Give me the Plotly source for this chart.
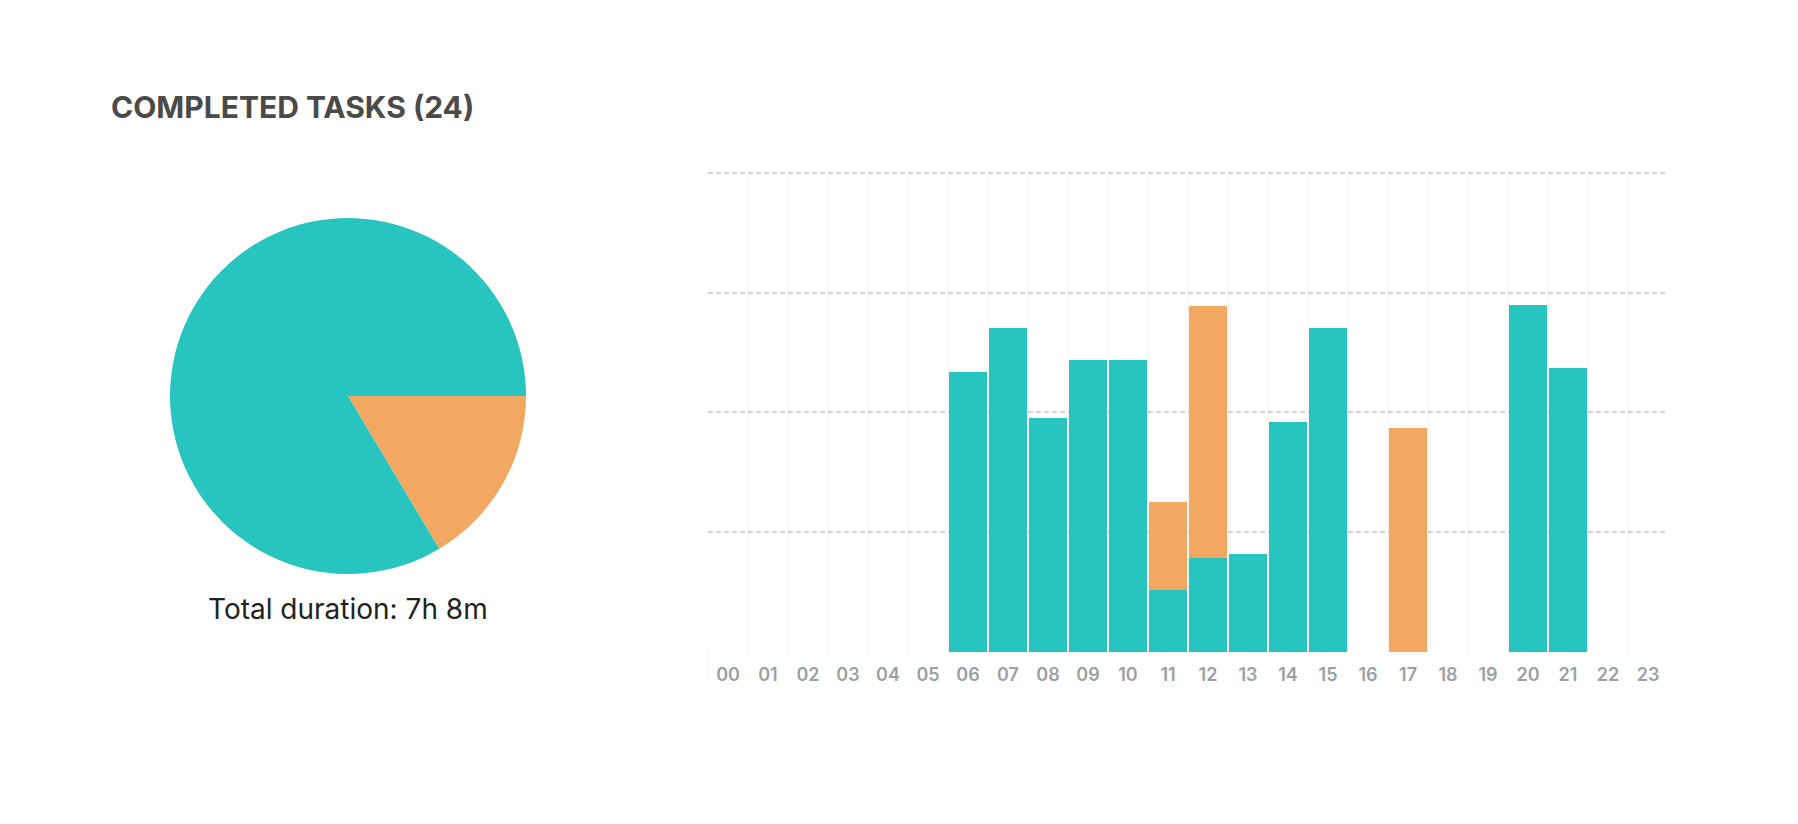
import plotly.graph_objects as go

W, H = 1798, 824

hours = [f"{h:02d}" for h in range(24)]
# minutes per hour
teal_minutes = [0, 0, 0, 0, 0, 0, 35.0, 40.6, 29.3, 36.6, 36.6, 7.8,
                11.8, 12.3, 28.8, 40.6, 0, 0, 0, 0, 43.5, 35.5, 0, 0]
orange_minutes = [0, 0, 0, 0, 0, 0, 0, 0, 0, 0, 0, 11.0,
                  31.5, 0, 0, 0, 0, 28.0, 0, 0, 0, 0, 0, 0]
pie_labels = ["Other", "Main"]
pie_values = [sum(orange_minutes), sum(teal_minutes)]
grid_minutes = [15, 30, 45, 60]

title_text = "COMPLETED TASKS (24)"
total_text = "Total duration: 7h 8m"

TEAL = "#28C4BF"
ORANGE = "#F3A861"
GRID_DASH = "#d4d4d4"
GRID_LIGHT = "#f3f3f3"

def px_x(p):
    return p / W

def px_y(p):
    return 1 - p / H

fig = go.Figure()

fig.add_trace(go.Pie(
    labels=pie_labels, values=pie_values,
    marker=dict(colors=[ORANGE, TEAL], line=dict(width=0)),
    sort=False, direction="clockwise", rotation=90,
    textinfo="none", hoverinfo="label+value", showlegend=False,
    domain=dict(x=[px_x(170), px_x(526)], y=[px_y(574), px_y(218)]),
))

fig.add_trace(go.Bar(
    x=hours, y=teal_minutes, marker=dict(color=TEAL, line=dict(width=0)),
    showlegend=False, xaxis="x", yaxis="y",
))
fig.add_trace(go.Bar(
    x=hours, y=orange_minutes, marker=dict(color=ORANGE, line=dict(width=0)),
    showlegend=False, xaxis="x", yaxis="y",
))

shapes = [
    # leftmost boundary line extends a little below the baseline
    dict(type="line", xref="x domain", yref="y domain", x0=0, x1=0,
         y0=0, y1=-0.0625, line=dict(color=GRID_LIGHT, width=1), layer="below"),
]

fig.update_layout(
    width=W, height=H,
    margin=dict(l=0, r=0, t=0, b=0),
    paper_bgcolor="white", plot_bgcolor="white",
    barmode="stack", bargap=0.05,
    font=dict(family="Inter, Roboto, sans-serif"),
    xaxis=dict(
        domain=[px_x(708), px_x(1668)],
        type="category", tickson="boundaries",
        range=[-0.5, 23.5],
        showgrid=True, gridcolor=GRID_LIGHT, gridwidth=1,
        showline=False, zeroline=False, ticks="",
        ticklabelstandoff=10,
        tickfont=dict(size=18, color="#9ba0a6", family="Inter", weight=600),
        anchor="y",
    ),
    yaxis=dict(
        domain=[px_y(652), px_y(170.7)],
        range=[0, 60.25], tickvals=grid_minutes,
        showticklabels=False, showgrid=True, gridcolor=GRID_DASH,
        gridwidth=1.5, griddash="5px,3px",
        zeroline=False, showline=False, ticks="",
        anchor="x",
    ),
    shapes=shapes,
    annotations=[
        dict(text=title_text, x=px_x(108.5), y=px_y(107), xref="paper", yref="paper",
             xanchor="left", yanchor="middle", showarrow=False,
             font=dict(size=30, color="#4a4a4a", family="Inter", weight=700)),
        dict(text=total_text, x=px_x(348), y=px_y(609), xref="paper", yref="paper",
             xanchor="center", yanchor="middle", showarrow=False,
             font=dict(size=28, color="#222222", family="Inter")),
    ],
)

fig.write_html("out.html", config={"displayModeBar": False},
               post_script="document.body.style.margin='0px';")
